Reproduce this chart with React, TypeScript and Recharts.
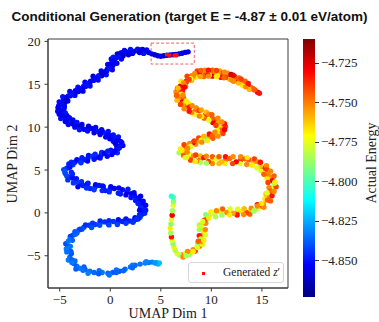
import { ReferenceArea, Scatter, ScatterChart, XAxis, YAxis } from "recharts";

const title = "Conditional Generation (target E = -4.87 ± 0.01 eV/atom)";
const xLabel = "UMAP Dim 1";
const yLabel = "UMAP Dim 2";
const colorLabel = "Actual Energy";
const legendLabel = "Generated";

const xDomain = [-6.16, 17.58];
const yDomain = [-8.76, 20.28];
const xTicks = [-5, 0, 5, 10, 15];
const yTicks = [-5, 0, 5, 10, 15, 20];
const energyMin = -4.8728;
const energyMax = -4.7096;
const colorTicks = [-4.725, -4.75, -4.775, -4.8, -4.825, -4.85];

// target window around the generated samples
const targetBox = { x1: 4.04, x2: 8.31, y1: 17.36, y2: 19.8 };

// [umap1, umap2, energy]
const blueTail = [
  [7.7, 18.78, -4.856], [7.4, 18.72, -4.858], [7.1, 18.62, -4.855], [6.8, 18.55, -4.858],
  [6.5, 18.48, -4.857], [6.2, 18.45, -4.859], [5.9, 18.42, -4.856], [5.6, 18.38, -4.858],
  [5.3, 18.32, -4.86], [5.0, 18.26, -4.858], [4.7, 18.32, -4.856], [4.4, 18.45, -4.859],
  [4.1, 18.55, -4.857], [3.8, 18.7, -4.855],
];

const blueUpper = [
  [3.45, 18.87, -4.852], [3.2, 19.05, -4.858], [3.3, 18.6, -4.849], [3.6, 19.0, -4.854],
  [2.45, 18.87, -4.861], [2.7, 19.1, -4.85], [2.2, 18.6, -4.852], [2.9, 18.7, -4.858], [2.0, 19.05, -4.849],
  [1.66, 18.75, -4.854], [1.4, 18.95, -4.852], [1.8, 18.45, -4.86], [1.3, 18.5, -4.85],
  [0.86, 18.28, -4.852], [1.05, 18.65, -4.856], [0.6, 18.1, -4.849], [1.1, 17.95, -4.853], [0.7, 18.55, -4.861],
  [0.37, 17.7, -4.85], [0.1, 17.95, -4.852], [0.65, 17.45, -4.858], [0.3, 18.15, -4.849], [0.05, 17.4, -4.854],
  [-0.03, 17.0, -4.852], [0.25, 17.2, -4.86], [-0.3, 16.75, -4.85], [0.2, 16.7, -4.852], [-0.25, 17.3, -4.856],
  [-0.63, 16.3, -4.849], [-0.35, 16.55, -4.853], [-0.85, 16.0, -4.861], [-0.4, 16.1, -4.85], [-0.9, 16.55, -4.852],
  [-1.42, 15.72, -4.858], [-1.15, 16.0, -4.849], [-1.65, 15.45, -4.854], [-1.2, 15.5, -4.852], [-1.7, 15.95, -4.86],
  [-2.21, 15.02, -4.85], [-1.95, 15.35, -4.852], [-2.45, 14.75, -4.856], [-2.0, 14.8, -4.849], [-2.5, 15.25, -4.853],
  [-2.91, 14.44, -4.861], [-2.65, 14.75, -4.85], [-3.15, 14.15, -4.852], [-2.7, 14.2, -4.858], [-3.2, 14.65, -4.849],
  [-3.7, 13.97, -4.854], [-3.45, 14.25, -4.852], [-3.95, 13.65, -4.86], [-3.5, 13.7, -4.85], [-4.0, 14.15, -4.852],
  [-4.4, 13.38, -4.856], [-4.15, 13.65, -4.849], [-4.65, 13.1, -4.853], [-4.2, 13.05, -4.861], [-4.7, 13.55, -4.85],
  [-4.8, 12.68, -4.852], [-4.5, 12.85, -4.858], [-5.1, 12.5, -4.849], [-4.55, 12.4, -4.854], [-5.05, 12.95, -4.852],
  [-4.9, 11.98, -4.86], [-4.6, 12.1, -4.85], [-5.2, 11.85, -4.852], [-4.65, 11.7, -4.856], [-5.15, 12.25, -4.849],
  [-4.6, 11.17, -4.853], [-4.3, 11.35, -4.861], [-4.9, 11.0, -4.85], [-4.35, 10.95, -4.852], [-4.85, 11.45, -4.858],
  [-3.9, 10.58, -4.849], [-3.7, 10.85, -4.854], [-4.15, 10.3, -4.852], [-3.65, 10.35, -4.86], [-4.2, 10.8, -4.85],
  [-2.91, 10.0, -4.852], [-2.8, 10.3, -4.856], [-3.05, 9.7, -4.849], [-2.6, 9.75, -4.853], [-3.25, 10.25, -4.861],
  [-1.52, 9.65, -4.85], [-1.45, 9.95, -4.852], [-1.6, 9.35, -4.858], [-1.2, 9.5, -4.849], [-1.85, 9.85, -4.854], [-2.2, 9.8, -4.852],
  [-0.33, 9.18, -4.86], [-0.2, 9.5, -4.85], [-0.45, 8.85, -4.852], [-0.05, 9.0, -4.856], [-0.7, 9.4, -4.849], [-0.95, 9.35, -4.853],
  [0.57, 8.6, -4.861], [0.8, 8.85, -4.85], [0.3, 8.35, -4.852], [0.85, 8.4, -4.858], [0.3, 8.85, -4.849],
  [0.96, 7.78, -4.854], [1.25, 7.85, -4.852], [0.65, 7.75, -4.86], [1.15, 8.15, -4.85], [0.75, 7.45, -4.852],
  [0.37, 7.08, -4.856], [0.6, 7.35, -4.849], [0.15, 6.8, -4.853], [0.7, 7.0, -4.846], [0.05, 7.3, -4.85],
  [-0.92, 6.73, -4.852], [-0.85, 7.05, -4.846], [-1.0, 6.4, -4.849], [-0.55, 6.95, -4.854], [-1.3, 6.5, -4.852],
  [-2.21, 6.38, -4.846], [-2.15, 6.7, -4.85], [-2.25, 6.05, -4.852], [-1.75, 6.6, -4.844], [-2.6, 6.2, -4.849],
  [-3.5, 5.91, -4.845], [-3.3, 6.2, -4.852], [-3.7, 5.6, -4.842], [-3.0, 6.05, -4.849], [-3.85, 5.9, -4.846],
];

// points lying between the ones above along the upper blue band
const blueUpperFill = [
  [2.95, 19.0, -4.853], [2.95, 18.72, -4.858], [2.05, 18.95, -4.85], [2.05, 18.65, -4.855],
  [1.26, 18.7, -4.852], [1.26, 18.3, -4.859], [0.85, 18.2, -4.85], [0.4, 17.8, -4.854],
  [0.4, 17.5, -4.852], [-0.05, 17.2, -4.857], [-0.1, 16.85, -4.85], [-0.55, 16.45, -4.853],
  [-0.8, 16.25, -4.86], [-1.25, 15.75, -4.851], [-1.6, 15.65, -4.852], [-2.05, 15.1, -4.856],
  [-2.35, 15.0, -4.85], [-2.75, 14.45, -4.854], [-3.1, 14.45, -4.852], [-3.5, 13.95, -4.858],
  [-3.8, 13.9, -4.85], [-4.3, 13.45, -4.853], [-4.35, 13.2, -4.86], [-4.85, 12.85, -4.851],
  [-4.55, 12.35, -4.852], [-5.15, 12.3, -4.856], [-4.45, 11.65, -4.85], [-5.05, 11.5, -4.854],
  [-4.05, 11.1, -4.852], [-4.45, 10.65, -4.858], [-3.3, 10.55, -4.85], [-3.5, 10.0, -4.853],
  [-2.15, 10.1, -4.86], [-2.25, 9.55, -4.851], [-0.85, 9.7, -4.852], [-1.0, 9.15, -4.856],
  [0.3, 9.1, -4.85], [-0.05, 8.65, -4.854], [1.05, 8.3, -4.852], [0.5, 8.1, -4.858],
  [0.9, 7.6, -4.85], [0.45, 7.2, -4.853], [-0.25, 7.2, -4.848], [-0.3, 6.6, -4.851],
  [-1.5, 6.85, -4.846], [-1.6, 6.25, -4.85], [-2.8, 6.45, -4.848], [-2.9, 5.85, -4.844],
  [-3.7, 5.8, -4.847], [-4.1, 5.3, -4.843],
];

const blueLower = [
  [-4.3, 5.21, -4.846], [-4.0, 5.35, -4.85], [-4.6, 5.05, -4.842], [-4.1, 5.7, -4.848], [-4.5, 4.8, -4.838],
  [-4.0, 4.16, -4.846], [-3.7, 4.05, -4.853], [-4.3, 4.3, -4.842], [-3.75, 4.55, -4.848], [-4.2, 3.85, -4.845],
  [-3.01, 3.35, -4.85], [-2.85, 3.65, -4.846], [-3.2, 3.05, -4.853], [-3.35, 3.6, -4.843], [-2.7, 3.2, -4.848],
  [-1.52, 3.0, -4.846], [-1.45, 3.3, -4.852], [-1.6, 2.7, -4.843], [-1.1, 3.2, -4.85], [-2.0, 2.85, -4.846], [-2.3, 3.35, -4.854],
  [-0.03, 2.76, -4.848], [0.05, 3.05, -4.852], [-0.1, 2.45, -4.845], [0.4, 2.85, -4.855], [-0.5, 2.6, -4.848], [-0.7, 3.05, -4.851],
  [1.66, 2.42, -4.853], [1.75, 2.75, -4.848], [1.55, 2.1, -4.856], [1.2, 2.7, -4.85], [2.1, 2.25, -4.854], [1.0, 2.2, -4.848],
  [2.75, 1.72, -4.852], [3.0, 1.95, -4.857], [2.5, 1.45, -4.849], [2.95, 1.4, -4.854], [2.4, 2.0, -4.851],
  [3.25, 0.78, -4.848], [3.5, 0.9, -4.853], [3.0, 0.65, -4.846], [3.45, 0.35, -4.851], [3.05, 1.15, -4.855],
  [3.15, -0.15, -4.85], [3.4, -0.05, -4.846], [2.9, -0.25, -4.853], [3.3, 0.25, -4.848], [2.95, -0.5, -4.844],
  [2.35, -0.85, -4.848], [2.45, -0.55, -4.851], [2.25, -1.1, -4.844], [2.75, -0.7, -4.849], [1.9, -0.95, -4.846],
  [0.76, -1.08, -4.845], [0.8, -0.8, -4.85], [0.7, -1.35, -4.842], [1.2, -1.0, -4.847], [0.3, -1.0, -4.844], [1.55, -0.8, -4.851],
  [-1.02, -1.2, -4.843], [-1.0, -0.95, -4.847], [-1.05, -1.45, -4.84], [-0.55, -1.05, -4.845], [-1.5, -1.35, -4.842], [-0.2, -1.25, -4.846],
  [-2.61, -1.67, -4.842], [-2.45, -1.4, -4.845], [-2.8, -1.9, -4.839], [-2.1, -1.45, -4.844], [-3.1, -2.0, -4.84],
];

const blueLowerFill = [
  [-3.85, 4.75, -4.846], [-4.45, 4.6, -4.841], [-3.35, 4.0, -4.849], [-3.65, 3.5, -4.844],
  [-2.2, 3.45, -4.848], [-2.35, 2.9, -4.845], [-0.75, 3.15, -4.851], [-0.8, 2.6, -4.846],
  [0.85, 2.9, -4.853], [0.8, 2.3, -4.848], [2.35, 2.35, -4.855], [2.05, 1.8, -4.85],
  [3.25, 1.35, -4.852], [2.75, 1.1, -4.848], [3.5, 0.3, -4.849], [2.9, 0.3, -4.852],
  [2.9, -0.25, -4.847], [2.6, -0.75, -4.845], [1.55, -0.7, -4.849], [1.55, -1.2, -4.844],
  [-0.13, -0.9, -4.846], [-0.13, -1.4, -4.842], [-1.75, -1.2, -4.844], [-1.85, -1.7, -4.84],
  [-3.0, -1.9, -4.842], [-3.3, -2.35, -4.838],
];

const blueBottom = [
  [-3.7, -2.6, -4.84], [-3.45, -2.5, -4.836], [-3.95, -2.75, -4.842], [-3.5, -2.2, -4.838], [-4.0, -3.1, -4.835],
  [-4.2, -3.89, -4.838], [-3.95, -3.9, -4.834], [-4.4, -3.6, -4.84], [-4.1, -4.4, -4.836], [-4.35, -4.2, -4.832],
  [-4.0, -5.17, -4.836], [-3.85, -4.75, -4.839], [-4.15, -5.5, -4.833], [-3.8, -5.5, -4.837],
  [-3.31, -6.21, -4.835], [-3.6, -5.9, -4.838], [-3.05, -6.45, -4.833], [-3.4, -6.55, -4.837],
  [-2.02, -6.8, -4.834], [-2.5, -6.6, -4.838], [-1.6, -6.95, -4.836], [-2.2, -7.05, -4.832],
  [-0.23, -7.03, -4.836], [-0.8, -6.95, -4.833], [0.25, -6.95, -4.838], [-0.1, -7.25, -4.834],
  [1.46, -6.56, -4.835], [0.9, -6.8, -4.838], [2.0, -6.3, -4.833], [1.3, -6.75, -4.836],
  [2.95, -5.97, -4.834], [2.45, -6.1, -4.836], [3.45, -5.85, -4.832],
  [4.14, -5.74, -4.83], [3.8, -5.8, -4.833],
  [4.74, -5.97, -4.824], [4.55, -5.8, -4.826], [4.85, -5.85, -4.822],
  [-3.75, -3.2, -4.837], [-4.15, -3.3, -4.834], [-3.9, -4.5, -4.838], [-4.3, -4.55, -4.835],
  [-3.5, -5.6, -4.836], [-3.8, -5.8, -4.833], [-2.6, -6.3, -4.837], [-2.7, -6.7, -4.834],
  [-1.1, -6.75, -4.835], [-1.15, -7.1, -4.838], [0.6, -6.65, -4.834], [0.6, -6.95, -4.837],
  [2.2, -6.1, -4.833], [2.2, -6.4, -4.836], [3.55, -5.7, -4.831], [4.44, -5.85, -4.828],
];

const orangeUpper = [
  [14.57, 14.08, -4.728], [14.3, 14.35, -4.74], [14.75, 13.95, -4.733],
  [13.87, 14.67, -4.752], [13.6, 14.9, -4.728], [14.1, 14.5, -4.745], [13.75, 14.4, -4.76],
  [13.18, 15.13, -4.74], [12.95, 15.4, -4.752], [13.4, 14.9, -4.733], [13.1, 14.85, -4.768], [13.35, 15.35, -4.746],
  [12.48, 15.6, -4.756], [12.3, 15.9, -4.74], [12.65, 15.3, -4.728], [12.2, 15.35, -4.752], [12.75, 15.75, -4.745],
  [11.69, 15.95, -4.733], [11.6, 16.3, -4.752], [11.8, 15.6, -4.76], [11.4, 15.8, -4.74], [11.95, 16.15, -4.72],
  [10.89, 16.18, -4.746], [10.85, 16.55, -4.756], [10.95, 15.8, -4.733], [10.6, 16.0, -4.768], [11.2, 16.35, -4.74],
  [10.1, 16.3, -4.752], [10.1, 16.65, -4.745], [10.1, 15.95, -4.728], [10.4, 16.55, -4.752], [9.8, 16.05, -4.776],
  [9.3, 16.3, -4.74], [9.35, 16.65, -4.752], [9.25, 15.9, -4.746], [9.65, 16.1, -4.733], [9.0, 16.5, -4.76],
  [8.51, 16.18, -4.752], [8.6, 16.55, -4.74], [8.4, 15.8, -4.768], [8.85, 16.4, -4.728], [8.2, 15.95, -4.752],
  [7.82, 15.72, -4.745], [8.05, 16.0, -4.752], [7.55, 15.4, -4.733], [8.05, 15.45, -4.76], [7.6, 15.95, -4.74],
  [7.22, 15.02, -4.756], [7.5, 15.2, -4.74], [6.95, 14.8, -4.728], [7.45, 14.75, -4.752], [7.0, 15.35, -4.768],
  [6.82, 14.2, -4.746], [7.15, 14.25, -4.733], [6.5, 14.1, -4.752], [7.05, 13.85, -4.776], [6.65, 14.55, -4.74],
  [6.92, 13.27, -4.752], [7.25, 13.4, -4.745], [6.6, 13.15, -4.76], [7.15, 12.95, -4.728], [6.7, 13.6, -4.752],
  [7.52, 12.45, -4.74], [7.75, 12.75, -4.768], [7.3, 12.15, -4.752], [7.85, 12.35, -4.733], [7.2, 12.7, -4.756],
  [8.41, 11.87, -4.746], [8.5, 12.25, -4.752], [8.3, 11.5, -4.776], [8.8, 11.95, -4.74], [8.05, 11.7, -4.752],
  [9.4, 11.4, -4.733], [9.5, 11.75, -4.76], [9.3, 11.05, -4.745], [9.75, 11.5, -4.752], [9.05, 11.25, -4.768],
  [10.4, 10.82, -4.74], [10.65, 11.05, -4.752], [10.15, 10.55, -4.728], [10.7, 10.55, -4.756], [10.1, 11.05, -4.745],
  [11.09, 10.0, -4.752], [11.4, 10.05, -4.74], [10.75, 9.95, -4.768], [11.3, 10.4, -4.733], [10.9, 9.6, -4.752],
  [10.79, 9.3, -4.776], [10.9, 9.65, -4.746], [10.65, 8.95, -4.752], [11.15, 9.25, -4.74], [10.4, 9.4, -4.76],
  [9.7, 8.83, -4.752], [9.8, 9.2, -4.733], [9.6, 8.45, -4.768], [10.1, 9.0, -4.745], [9.3, 8.7, -4.785],
  [8.61, 8.37, -4.756], [8.75, 8.75, -4.74], [8.45, 8.0, -4.752], [9.0, 8.5, -4.776], [8.2, 8.2, -4.728],
  [7.62, 7.78, -4.768], [7.85, 8.1, -4.752], [7.35, 7.45, -4.746], [7.9, 7.7, -4.776], [7.3, 7.95, -4.74],
  [7.12, 7.08, -4.76], [7.45, 7.15, -4.752], [6.8, 7.0, -4.785], [7.25, 6.7, -4.745], [6.95, 7.45, -4.768],
];

const orangeUpperFill = [
  [14.22, 14.37, -4.745], [13.4, 14.7, -4.752], [13.65, 15.1, -4.733], [12.7, 15.15, -4.76], [12.95, 15.6, -4.74],
  [12.0, 15.5, -4.752], [12.15, 16.05, -4.728], [11.25, 15.75, -4.746], [11.3, 16.4, -4.752], [10.5, 15.9, -4.768],
  [10.5, 16.6, -4.74], [9.7, 15.95, -4.752], [9.7, 16.65, -4.733], [8.9, 15.9, -4.756], [8.95, 16.6, -4.745],
  [8.35, 16.25, -4.752], [7.95, 15.65, -4.776], [7.8, 15.55, -4.74], [7.25, 15.15, -4.752], [7.35, 14.65, -4.728],
  [6.7, 14.55, -4.76], [7.2, 13.75, -4.752], [6.55, 13.7, -4.745], [7.5, 13.05, -4.768], [6.95, 12.65, -4.74],
  [8.1, 12.5, -4.752], [7.8, 11.85, -4.733], [9.0, 12.0, -4.756], [8.8, 11.3, -4.752], [10.05, 11.45, -4.745],
  [9.75, 10.8, -4.776], [11.05, 10.6, -4.752], [10.45, 10.2, -4.74], [11.3, 9.7, -4.728], [10.6, 9.6, -4.768],
  [10.35, 9.4, -4.752], [10.15, 8.7, -4.745], [9.25, 8.95, -4.76], [9.05, 8.25, -4.752], [8.3, 8.4, -4.74],
  [7.95, 7.75, -4.776], [7.65, 7.55, -4.752], [7.1, 7.3, -4.768],
];

const orangeLower = [
  [7.91, 6.5, -4.752], [7.85, 6.85, -4.776], [7.95, 6.15, -4.74], [7.55, 6.45, -4.768], [8.25, 6.65, -4.752],
  [8.91, 6.26, -4.746], [8.9, 6.65, -4.76], [8.9, 5.9, -4.785], [9.25, 6.45, -4.733], [8.55, 6.05, -4.752],
  [10.1, 6.15, -4.768], [10.1, 6.55, -4.745], [10.1, 5.75, -4.752], [10.5, 6.3, -4.776], [9.7, 6.0, -4.74],
  [11.39, 6.15, -4.752], [11.4, 6.55, -4.733], [11.35, 5.75, -4.768], [11.8, 6.35, -4.746], [11.0, 5.95, -4.76],
  [12.88, 6.15, -4.74], [12.9, 6.55, -4.752], [12.85, 5.75, -4.776], [13.3, 6.3, -4.745], [12.45, 5.95, -4.728],
  [14.17, 5.92, -4.756], [14.25, 6.3, -4.74], [14.05, 5.55, -4.768], [14.6, 5.95, -4.752], [13.7, 6.2, -4.745],
  [15.17, 5.22, -4.733], [15.45, 5.5, -4.752], [14.9, 4.9, -4.776], [15.5, 5.05, -4.74], [14.85, 5.45, -4.76],
  [15.86, 4.16, -4.752], [16.2, 4.3, -4.745], [15.5, 4.05, -4.768], [16.05, 3.75, -4.728], [15.6, 4.55, -4.752],
  [16.06, 3.0, -4.776], [16.4, 3.05, -4.74], [15.7, 2.95, -4.752], [16.25, 3.45, -4.785], [15.85, 2.55, -4.746],
  [15.66, 1.83, -4.752], [16.0, 2.0, -4.733], [15.3, 1.65, -4.768], [15.85, 1.4, -4.745], [15.4, 2.2, -4.76],
  [14.87, 0.78, -4.74], [15.15, 1.05, -4.756], [14.6, 0.5, -4.776], [15.2, 0.65, -4.752], [14.55, 0.95, -4.728],
  [13.87, 0.2, -4.768], [13.95, 0.55, -4.752], [13.8, -0.15, -4.745], [14.3, 0.35, -4.785], [13.45, 0.05, -4.74],
  [12.58, 0.08, -4.752], [12.6, 0.45, -4.776], [12.55, -0.25, -4.733], [13.0, 0.2, -4.768], [12.15, -0.05, -4.756],
  [11.09, 0.08, -4.776], [11.1, 0.45, -4.745], [11.05, -0.25, -4.785], [11.55, 0.05, -4.752], [10.65, 0.2, -4.768],
  [9.8, -0.27, -4.785], [9.95, 0.1, -4.768], [9.6, -0.6, -4.752], [10.25, -0.1, -4.776], [9.45, -0.2, -4.79],
  [9.11, -1.32, -4.768], [9.45, -1.2, -4.752], [8.8, -1.4, -4.785], [9.3, -0.85, -4.74], [8.95, -1.75, -4.776],
  [9.11, -2.6, -4.752], [9.4, -2.55, -4.776], [8.8, -2.65, -4.733], [9.25, -2.15, -4.768], [8.95, -3.05, -4.785],
  [8.81, -3.89, -4.746], [9.1, -3.7, -4.768], [8.55, -4.1, -4.776], [8.95, -3.35, -4.752], [8.65, -3.55, -4.79],
  [8.01, -4.59, -4.768], [8.2, -4.3, -4.752], [7.8, -4.85, -4.785], [8.4, -4.45, -4.74], [7.6, -4.65, -4.776],
  [7.12, -4.94, -4.728], [7.4, -4.8, -4.768], [6.85, -4.9, -4.785], [7.2, -5.15, -4.752],
];

const orangeLowerFill = [
  [7.6, 7.1, -4.752], [7.4, 6.45, -4.776], [8.45, 6.75, -4.74], [8.4, 6.0, -4.768], [9.5, 6.6, -4.752],
  [9.5, 5.8, -4.785], [10.75, 6.55, -4.745], [10.75, 5.75, -4.76], [12.15, 6.55, -4.752], [12.1, 5.75, -4.74],
  [13.55, 6.45, -4.768], [13.5, 5.65, -4.752], [14.85, 5.9, -4.733], [14.5, 5.25, -4.776], [15.85, 4.85, -4.752],
  [15.2, 4.5, -4.745], [16.3, 3.6, -4.768], [15.6, 3.55, -4.74], [16.2, 2.5, -4.752], [15.5, 2.35, -4.776],
  [15.55, 1.5, -4.745], [14.95, 1.1, -4.768], [14.55, 0.8, -4.752], [14.2, 0.2, -4.785], [13.25, 0.5, -4.76],
  [13.2, -0.2, -4.752], [11.85, 0.45, -4.776], [11.8, -0.25, -4.768], [10.5, 0.25, -4.752], [10.4, -0.45, -4.785],
  [9.75, -0.6, -4.768], [9.15, -1.0, -4.776], [9.4, -1.95, -4.752], [8.8, -1.95, -4.785], [9.25, -3.2, -4.768],
  [8.7, -3.3, -4.745], [8.6, -4.0, -4.776], [8.2, -4.5, -4.768], [7.65, -4.5, -4.752], [7.5, -5.0, -4.785],
];

const orangeTail = [
  [6.6, -4.75, -4.776], [6.42, -4.35, -4.785], [6.3, -4.0, -4.768],
  [6.2, -3.6, -4.79], [6.12, -3.19, -4.776], [6.05, -2.8, -4.733],
  [5.98, -2.35, -4.785], [5.93, -1.79, -4.768], [6.0, -1.3, -4.79],
  [6.05, -0.8, -4.776], [6.12, -0.27, -4.728], [6.15, 0.25, -4.785],
  [6.22, 0.9, -4.776], [6.25, 1.35, -4.79],
  [6.22, 1.83, -4.8], [6.05, 1.95, -4.805],
];

const generated = [
  [5.6, 18.45], [5.85, 18.4], [6.35, 18.38], [6.55, 18.45], [6.45, 18.32],
];

const toRows = (list: number[][]) => list.map(([x, y, e]) => ({ x, y, e }));
const blueData = toRows([
  ...blueUpper, ...blueUpperFill, ...blueLower, ...blueLowerFill, ...blueBottom, ...blueTail,
]);
const orangeData = toRows([
  ...orangeUpper, ...orangeUpperFill, ...orangeLower, ...orangeLowerFill, ...orangeTail,
]);
const generatedData = generated.map(([x, y]) => ({ x, y }));

const clamp01 = (v: number) => Math.max(0, Math.min(1, v));
const jet = (value: number) => {
  const t = clamp01((value - energyMin) / (energyMax - energyMin));
  const ch = (k: number) => Math.round(255 * clamp01(1.5 - Math.abs(4 * t - k)));
  return `rgb(${ch(3)},${ch(2)},${ch(1)})`;
};

const minus = (v: number) => (v < 0 ? `\u2212${Math.abs(v)}` : `${v}`);

const serif = "'Liberation Serif', 'Times New Roman', serif";
const W = 379;
const H = 322;
const bar = { left: 302.7, top: 39, width: 12.3, height: 257.7 };

const EnergyDot = (props: any) => {
  const { cx, cy, payload } = props;
  if (cx == null || cy == null) return null;
  return <circle cx={cx} cy={cy} r={2.7} fill={jet(payload.e)} />;
};

const GeneratedMark = (props: any) => {
  const { cx, cy } = props;
  if (cx == null || cy == null) return null;
  return <rect x={cx - 2} y={cy - 1.6} width={4} height={3.2} fill="#ff1010" />;
};

const XTick = (props: any) => {
  const { x, y, payload } = props;
  return (
    <text x={x} y={y} dy={9.3} textAnchor="middle" fontFamily={serif} fontSize={13} fill="#222">
      {minus(payload.value)}
    </text>
  );
};

const YTick = (props: any) => {
  const { x, y, payload } = props;
  return (
    <text x={x} y={y} dy={4.5} textAnchor="end" fontFamily={serif} fontSize={13} fill="#222">
      {minus(payload.value)}
    </text>
  );
};

export default function App() {
  const barY = (v: number) => bar.top + ((energyMax - v) / (energyMax - energyMin)) * bar.height;
  return (
    <div style={{ position: "absolute", left: 0, top: 0, width: W, height: H, background: "#fff" }}>
      <div
        style={{
          position: "absolute",
          left: 0,
          width: W,
          top: 9,
          textAlign: "center",
          fontFamily: "'Liberation Sans', Arial, sans-serif",
          fontWeight: "bold",
          fontSize: 13.5,
          lineHeight: "16px",
          color: "#111",
          whiteSpace: "nowrap",
        }}
      >
        {title}
      </div>

      <ScatterChart width={W} height={H} margin={{ top: 39, right: 91, bottom: 4, left: 0 }}>
        <XAxis
          dataKey="x"
          type="number"
          domain={xDomain}
          ticks={xTicks}
          allowDataOverflow
          height={30}
          tickSize={3.5}
          tickMargin={3}
          stroke="#3a3a3a"
          tick={<XTick />}
        />
        <YAxis
          dataKey="y"
          type="number"
          domain={yDomain}
          ticks={yTicks}
          allowDataOverflow
          width={48}
          tickSize={3.5}
          tickMargin={4}
          stroke="#3a3a3a"
          tick={<YTick />}
        />
        <ReferenceArea
          x1={xDomain[0]}
          x2={xDomain[1]}
          y1={yDomain[0]}
          y2={yDomain[1]}
          fill="none"
          stroke="#3a3a3a"
          strokeWidth={1}
        />
        <Scatter data={blueData} shape={EnergyDot} isAnimationActive={false} />
        <Scatter data={orangeData} shape={EnergyDot} isAnimationActive={false} />
        <Scatter data={generatedData} shape={GeneratedMark} isAnimationActive={false} />
        <ReferenceArea
          x1={targetBox.x1}
          x2={targetBox.x2}
          y1={targetBox.y1}
          y2={targetBox.y2}
          fill="none"
          stroke="#ee4444"
          strokeOpacity={0.85}
          strokeDasharray="3 2"
        />
      </ScatterChart>

      <div
        style={{
          position: "absolute",
          left: 0,
          top: 305,
          width: 336,
          textAlign: "center",
          fontFamily: serif,
          fontSize: 14,
          lineHeight: "18px",
          color: "#222",
        }}
      >
        {xLabel}
      </div>
      <div
        style={{
          position: "absolute",
          left: 13 - 60,
          top: 163.5 - 10,
          width: 120,
          height: 20,
          lineHeight: "20px",
          textAlign: "center",
          transform: "rotate(-90deg)",
          fontFamily: serif,
          fontSize: 14,
          color: "#222",
        }}
      >
        {yLabel}
      </div>

      <div
        style={{
          position: "absolute",
          left: 188,
          top: 262,
          width: 94,
          height: 19,
          border: "1px solid #d6d6d6",
          borderRadius: 3,
          background: "rgba(255,255,255,0.85)",
        }}
      >
        <div style={{ position: "absolute", left: 12.5, top: 8.5, width: 3, height: 3, background: "#ff1010" }} />
        <div
          style={{
            position: "absolute",
            left: 34,
            top: 0,
            lineHeight: "19px",
            fontFamily: serif,
            fontSize: 11.5,
            color: "#222",
            whiteSpace: "nowrap",
          }}
        >
          {legendLabel} <i>z</i>′
        </div>
      </div>

      <div
        style={{
          position: "absolute",
          left: bar.left,
          top: bar.top,
          width: bar.width,
          height: bar.height,
          background:
            "linear-gradient(to top, #00007f 0%, #0000ff 12.5%, #00ffff 37.5%, #80ff80 50%, #ffff00 62.5%, #ff0000 87.5%, #7f0000 100%)",
        }}
      />
      {colorTicks.map((v) => (
        <div key={v}>
          <div
            style={{
              position: "absolute",
              left: bar.left + bar.width,
              top: barY(v) - 0.5,
              width: 3.5,
              height: 1,
              background: "#333",
            }}
          />
          <div
            style={{
              position: "absolute",
              left: 321,
              top: barY(v) - 9,
              lineHeight: "18px",
              fontFamily: serif,
              fontSize: 13,
              color: "#222",
            }}
          >
            {`\u2212${Math.abs(v).toFixed(3)}`}
          </div>
        </div>
      ))}
      <div
        style={{
          position: "absolute",
          left: 372 - 60,
          top: 163 - 10,
          width: 120,
          height: 20,
          lineHeight: "20px",
          textAlign: "center",
          transform: "rotate(-90deg)",
          fontFamily: serif,
          fontSize: 14,
          color: "#222",
          whiteSpace: "nowrap",
        }}
      >
        {colorLabel}
      </div>
    </div>
  );
}
